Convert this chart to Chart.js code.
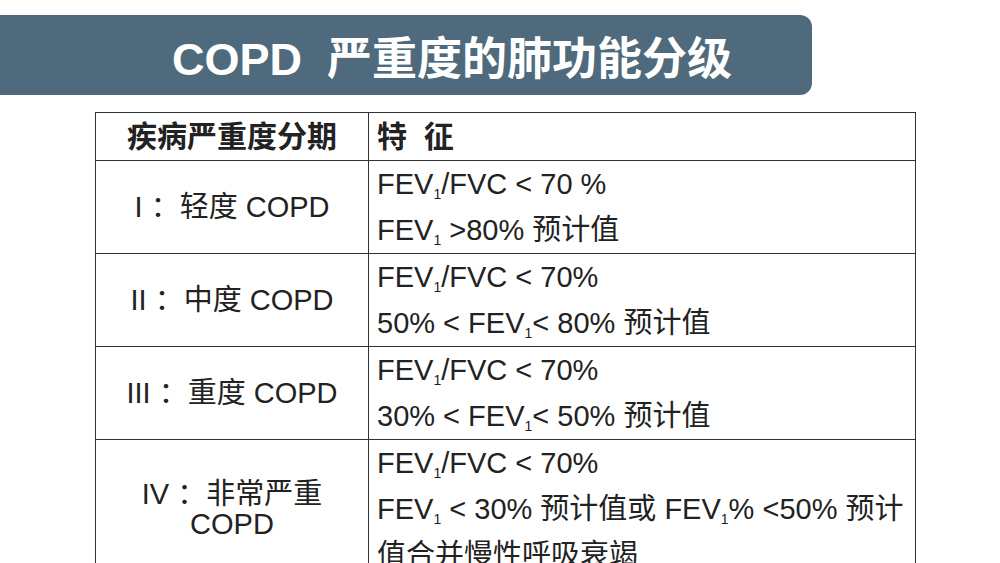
<!DOCTYPE html>
<html><head><meta charset="utf-8">
<script src="https://cdn.jsdelivr.net/npm/chart.js@4"></script>
<style>
body{margin:0;width:1000px;height:563px;overflow:hidden;background:#fff;font-family:"Liberation Sans","Noto Sans CJK SC",sans-serif;position:relative}
#banner{position:absolute;left:0;top:15px;width:812px;height:80px;background:#4e6a7c;border-radius:0 12px 12px 0;color:#fff;font-weight:bold;font-size:45px;display:flex;align-items:center;justify-content:center;padding-left:92px;box-sizing:border-box}
table{position:absolute;left:95px;top:112px;border-collapse:collapse;width:821px;color:#222;table-layout:fixed}
td{border:1.5px solid #333;font-size:29px;vertical-align:top;padding:0 8px;line-height:46px;height:92px;box-sizing:border-box}
th{border:1.5px solid #333;font-size:30px;height:47px;text-align:left;padding:0 8px;line-height:46px}
td.s{text-align:center;vertical-align:middle;line-height:30px}
sub{font-size:14px;vertical-align:baseline;position:relative;top:5px;line-height:0}
#c{position:absolute;left:0;top:0;width:1;height:1;display:none}
</style></head><body>
<div id="banner">COPD&nbsp;&nbsp;严重度的肺功能分级</div>
<table id="t"><colgroup><col style="width:273px"><col></colgroup></table>
<canvas id="c"></canvas>
<script>
const headers=["疾病严重度分期","特&nbsp;&nbsp;征"];
const stages=["I ：轻度 COPD","II ：中度 COPD","III ：重度 COPD","IV ：非常严重<br>COPD"];
const features=[
 ["FEV<sub>1</sub>/FVC &lt; 70 %","FEV<sub>1</sub> &gt;80% 预计值"],
 ["FEV<sub>1</sub>/FVC &lt; 70%","50% &lt; FEV<sub>1</sub>&lt; 80% 预计值"],
 ["FEV<sub>1</sub>/FVC &lt; 70%","30% &lt; FEV<sub>1</sub>&lt; 50% 预计值"],
 ["FEV<sub>1</sub>/FVC &lt; 70%","FEV<sub>1</sub> &lt; 30% 预计值或 FEV<sub>1</sub>% &lt;50% 预计<br>值合并慢性呼吸衰竭"]
];
let h='<tr><th style="text-align:center">'+headers[0]+'</th><th>'+headers[1]+'</th></tr>';
stages.forEach((s,i)=>{h+='<tr><td class="s">'+s+'</td><td>'+features[i].join('<br>')+'</td></tr>';});
document.getElementById('t').insertAdjacentHTML('beforeend',h);
new Chart(document.getElementById('c'),{type:'bar',data:{labels:[],datasets:[]},options:{animation:false}});
</script></body></html>
